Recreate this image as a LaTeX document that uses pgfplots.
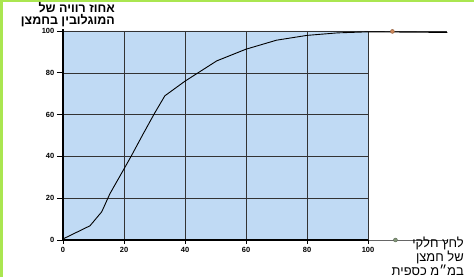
\documentclass[border=0pt]{standalone}
\usepackage{pgfplots}
\pgfplotsset{compat=1.18}
\usepackage{fontspec}
\setmainfont{Liberation Sans}
\newfontfamily\hebfont[Script=Hebrew]{Liberation Sans}
\TeXXeTstate=1
\definecolor{bgblue}{RGB}{192,218,244}
\definecolor{lime}{RGB}{170,230,80}
\definecolor{dotorange}{RGB}{205,135,90}
\definecolor{dotgreen}{RGB}{130,150,120}
\begin{document}
\begin{tikzpicture}
\path[use as bounding box] (0,0) rectangle (474bp,277bp);
\fill[lime] (0,0) rectangle (2.5bp,277bp);
\fill[lime] (0,274.5bp) rectangle (474bp,277bp);
\begin{axis}[
  at={(63bp,37bp)}, anchor=south west,
  scale only axis, width=384.3bp, height=209bp,
  xmin=0, xmax=126, ymin=0, ymax=100,
  clip=false,
  axis lines=none,
  xtick=\empty, ytick=\empty,
]
\addplot[fill=bgblue, draw=none] coordinates {(0,0)(100,0)(100,100)(0,100)} \closedcycle;
% horizontal grid
\addplot[black!80, thin] coordinates {(0,20)(100,20)};
\addplot[black!80, thin] coordinates {(0,40)(100,40)};
\addplot[black!80, thin] coordinates {(0,60)(100,60)};
\addplot[black!80, thin] coordinates {(0,80)(100,80)};
\addplot[black!80, thin] coordinates {(0,100)(126,100)};
% vertical grid
\addplot[black!80, thin] coordinates {(20,0)(20,100)};
\addplot[black!80, thin] coordinates {(40,0)(40,100)};
\addplot[black!80, thin] coordinates {(60,0)(60,100)};
\addplot[black!80, thin] coordinates {(80,0)(80,100)};
\addplot[black!80, thin] coordinates {(100,0)(100,100)};
% axes
\addplot[black!60, thin] coordinates {(100,0)(126,0)};
\addplot[black, line width=1.3pt] coordinates {(0,0)(100,0)};
\addplot[black, line width=1.3pt] coordinates {(0,0)(0,101)};
% ticks
\foreach \v in {0,20,40,60,80,100} {
  \edef\tmp{\noexpand\draw[black, line width=0.9pt] (axis cs:-2,\v) -- (axis cs:0,\v);
    \noexpand\node[anchor=east, inner sep=0pt, font=\noexpand\fontsize{7.5}{8}\noexpand\selectfont\noexpand\bfseries] at (axis cs:-2.8,\v) {\v};
    \noexpand\draw[black, line width=0.9pt] (axis cs:\v,0) -- (axis cs:\v,-2);
    \noexpand\node[anchor=north, inner sep=0pt, font=\noexpand\fontsize{7.5}{8}\noexpand\selectfont\noexpand\bfseries] at (axis cs:\v,-3.5) {\v};}
  \tmp
}
% curve
\addplot[black, line width=0.9pt] coordinates {
(0,0.5)(8.85,6.8)(12.7,13.5)(15.4,22.2)(20,34)(22.5,40.5)(26.3,50.8)(30,60.6)(33.4,69)(40,76)(50.4,85.7)(60,91.3)(70,95.6)(80,97.9)(90,99.1)(100,99.6)(110,99.5)(126,99.3)};
\addplot[only marks, mark=*, mark size=2pt, draw=dotorange!70!black, fill=dotorange] coordinates {(108,99.8)};
\addplot[only marks, mark=*, mark size=2pt, draw=dotgreen!70!black, fill=dotgreen] coordinates {(109,0)};
\end{axis}
\node[anchor=north east, align=right, inner sep=0pt, font=\hebfont\bfseries\fontsize{12.5}{12}\selectfont] at (115bp,275bp)
 {\beginR אחוז רוויה של\endR\\\beginR המוגלובין בחמצן\endR};
\node[anchor=south east, align=right, inner sep=0pt, font=\hebfont\fontsize{13}{11.5}\selectfont] at (464bp,1bp)
 {\beginR לחץ חלקי\endR\\\beginR של חמצן\endR\\\beginR במ״מ כספית\endR};
\end{tikzpicture}
\end{document}
